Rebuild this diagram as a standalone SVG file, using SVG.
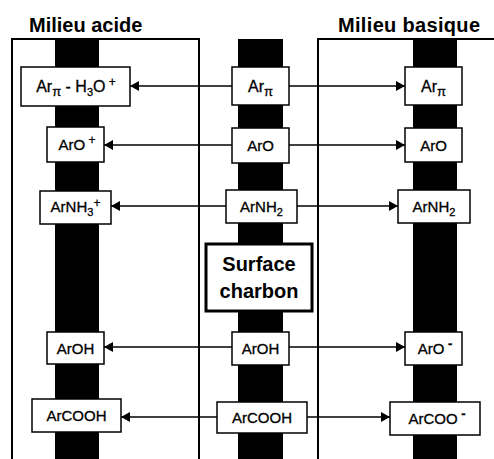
<svg xmlns="http://www.w3.org/2000/svg" width="494" height="459" viewBox="0 0 494 459">
<style>
.frame{fill:none;stroke:#000;stroke-width:2}
.bar{fill:#000}
.box{fill:#fff;stroke:#000;stroke-width:1.5}
.big{fill:#fff;stroke:#000;stroke-width:3}
.lbl{font-family:"Liberation Sans",Arial,sans-serif;font-size:15px;fill:#000;stroke:#000;stroke-width:0.3;text-anchor:middle}
.l1{font-size:16px}
.title{font-family:"Liberation Sans",Arial,sans-serif;font-size:20px;font-weight:bold;fill:#000}
.conn{stroke:#000;stroke-width:1.3;fill:none;marker-end:url(#ah)}
.s{font-size:11px}
</style>
<defs>
<marker id="ah" markerUnits="userSpaceOnUse" markerWidth="10" markerHeight="10" refX="9" refY="5" orient="auto">
<path d="M0,0 L9,5 L0,10 Z" fill="#000"/>
</marker>
</defs>
<rect width="494" height="459" fill="#fff"/>
<g id="background">
<path class="frame" d="M12,459 V39 H199 V459"/>
<path class="frame" d="M318,459 V39 H494"/>
<rect class="bar" x="55" y="39" width="44" height="420"/>
<rect class="bar" x="238" y="39" width="45" height="420"/>
<rect class="bar" x="413" y="39" width="44" height="420"/>
<text class="title" x="29" y="32">Milieu acide</text>
<text class="title" x="338" y="32" textLength="142">Milieu basique</text>
</g>
<g id="connectors">
<line class="conn" x1="232" y1="86" x2="130" y2="86"/>
<line class="conn" x1="289" y1="86" x2="405" y2="86"/>
<line class="conn" x1="232" y1="145" x2="104" y2="145"/>
<line class="conn" x1="289" y1="145" x2="405" y2="145"/>
<line class="conn" x1="226" y1="206" x2="111" y2="206"/>
<line class="conn" x1="297" y1="206" x2="398" y2="206"/>
<line class="conn" x1="232" y1="347" x2="104" y2="347"/>
<line class="conn" x1="289" y1="347" x2="405" y2="347"/>
<line class="conn" x1="217" y1="417" x2="121" y2="417"/>
<line class="conn" x1="307" y1="417" x2="390" y2="417"/>
</g>
<g id="surface">
<rect class="big" x="206" y="244" width="106" height="67"/>
<text class="title" x="259" y="271" text-anchor="middle">Surface</text>
<text class="title" x="259" y="298" text-anchor="middle">charbon</text>
</g>
<g id="acid-arpi">
<rect class="box" x="21" y="67" width="109" height="39"/>
<text class="lbl l1" x="76" y="92">Ar<tspan font-size="13" dy="4">π</tspan><tspan dy="-4"> - H</tspan><tspan class="s" dy="4">3</tspan><tspan dy="-4">O</tspan><tspan font-size="12" dy="-6"> +</tspan></text>
</g>
<g id="center-arpi">
<rect class="box" x="232" y="67" width="57" height="38"/>
<text class="lbl l1" x="260.5" y="92">Ar<tspan font-size="13" dy="4">π</tspan></text>
</g>
<g id="basic-arpi">
<rect class="box" x="405" y="67" width="57" height="38"/>
<text class="lbl l1" x="433.5" y="92">Ar<tspan font-size="13" dy="4">π</tspan></text>
</g>
<g id="acid-aro">
<rect class="box" x="47" y="127" width="57" height="35"/>
<text class="lbl" x="77" y="150">ArO<tspan font-size="12" dy="-6"> +</tspan></text>
</g>
<g id="center-aro">
<rect class="box" x="232" y="128" width="57" height="35"/>
<text class="lbl" x="260.5" y="150.5">ArO</text>
</g>
<g id="basic-aro">
<rect class="box" x="405" y="128" width="57" height="34"/>
<text class="lbl" x="433.5" y="150.5">ArO</text>
</g>
<g id="acid-arnh3">
<rect class="box" x="40" y="191" width="71" height="33"/>
<text class="lbl" x="75.5" y="212">ArNH<tspan class="s" dy="4">3</tspan><tspan font-size="12" dy="-9">+</tspan></text>
</g>
<g id="center-arnh2">
<rect class="box" x="226" y="190" width="71" height="33"/>
<text class="lbl" x="261.5" y="211.5">ArNH<tspan class="s" dy="4">2</tspan></text>
</g>
<g id="basic-arnh2">
<rect class="box" x="398" y="190" width="72" height="33"/>
<text class="lbl" x="434" y="211.5">ArNH<tspan class="s" dy="4">2</tspan></text>
</g>
<g id="acid-aroh">
<rect class="box" x="47" y="332" width="57" height="32"/>
<text class="lbl" x="75.5" y="353.5">ArOH</text>
</g>
<g id="center-aroh">
<rect class="box" x="232" y="332" width="57" height="33"/>
<text class="lbl" x="260.5" y="354">ArOH</text>
</g>
<g id="basic-aro-minus">
<rect class="box" x="405" y="332" width="57" height="33"/>
<text class="lbl" x="435" y="354">ArO<tspan font-size="13" font-weight="bold" dy="-6"> -</tspan></text>
</g>
<g id="acid-arcooh">
<rect class="box" x="32" y="399" width="89" height="33"/>
<text class="lbl" x="76.5" y="421">ArCOOH</text>
</g>
<g id="center-arcooh">
<rect class="box" x="217" y="402" width="90" height="31"/>
<text class="lbl" x="262" y="423">ArCOOH</text>
</g>
<g id="basic-arcoo-minus">
<rect class="box" x="390" y="402" width="90" height="33"/>
<text class="lbl" x="437" y="424">ArCOO<tspan font-size="13" font-weight="bold" dy="-6"> -</tspan></text>
</g>
</svg>
